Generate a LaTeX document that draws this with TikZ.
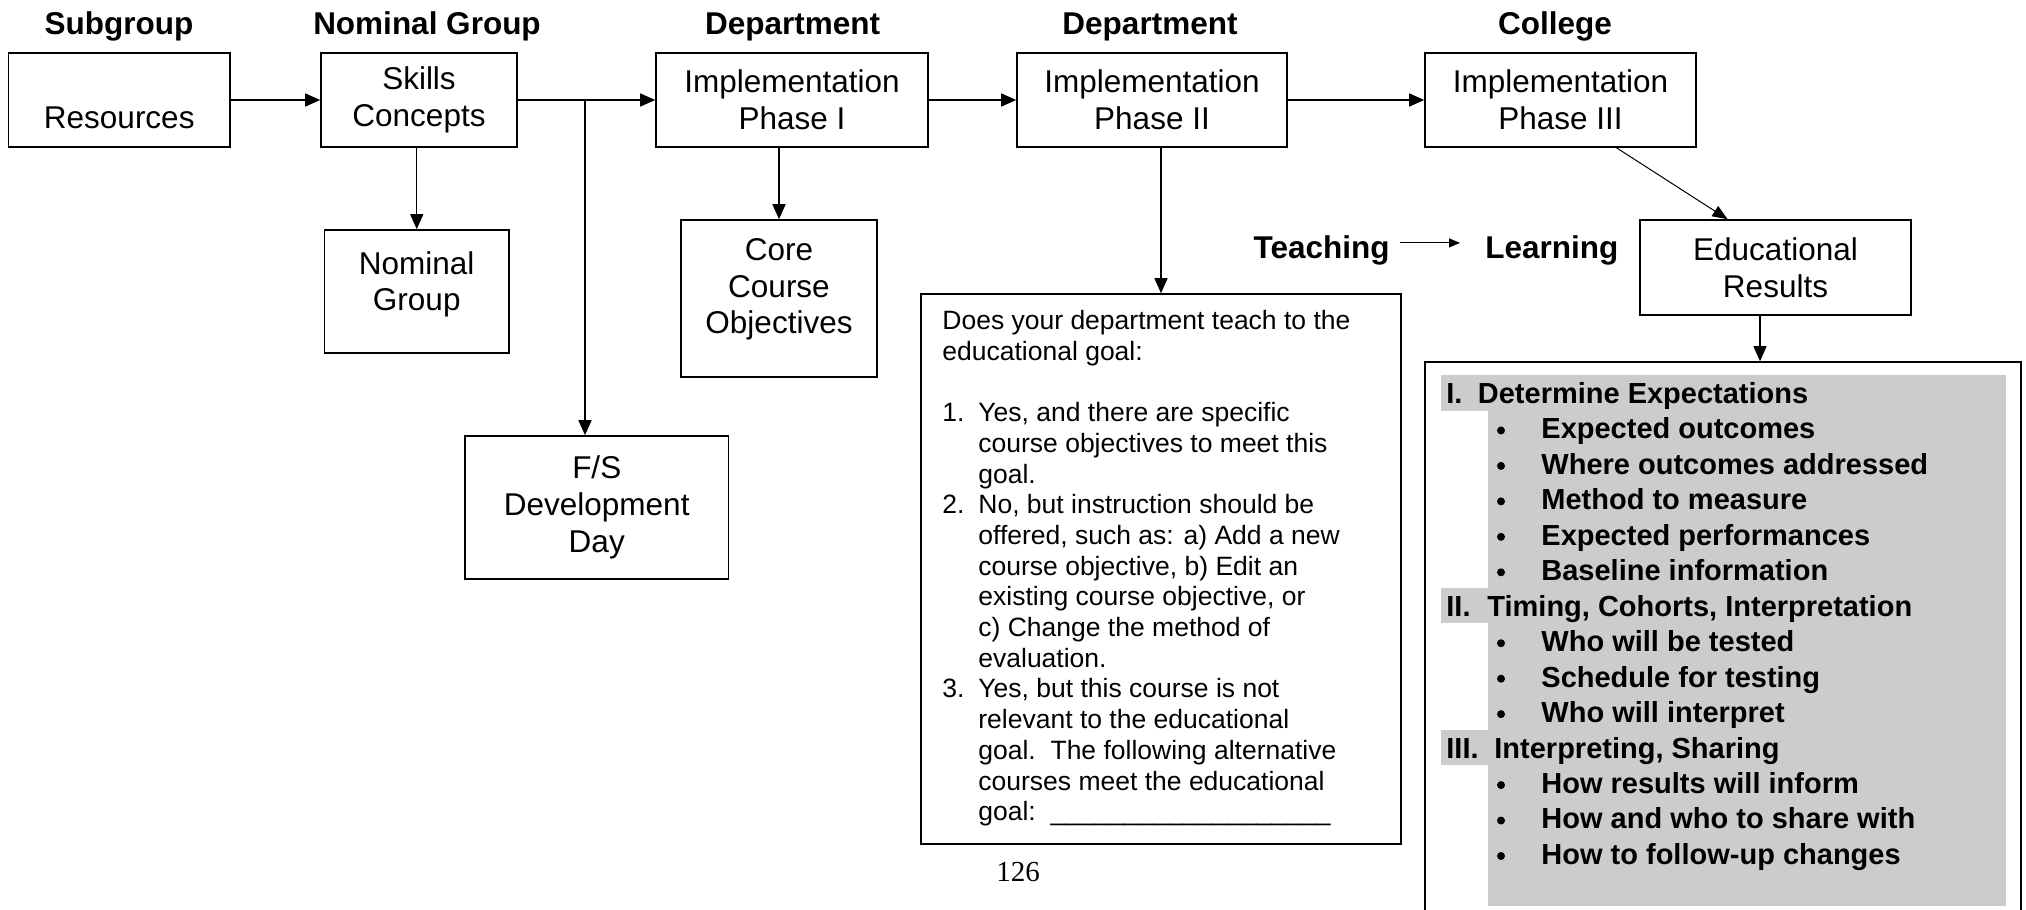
\documentclass[tikz,border=0pt]{standalone}
\usepackage{fontspec}
\setmainfont{Liberation Sans}
\newfontfamily\pagefont{Liberation Serif}
\usetikzlibrary{arrows.meta}
\definecolor{shadegray}{gray}{0.8}

\begin{document}
\begin{tikzpicture}[x=0.5pt, y=-0.5pt,
  box/.style={draw, line width=0.8pt, inner sep=0pt, align=center,
    font=\fontsize{15.75}{18.35}\selectfont},
  boxtext/.style={align=center, inner sep=0pt, font=\fontsize{15.75}{18.35}\selectfont},
  hdr/.style={anchor=base, inner sep=0pt, font=\bfseries\fontsize{15.75}{18.35}\selectfont},
  link/.style={line width=0.7pt, -{Triangle[length=7.5pt, width=6.5pt]}},
  qline/.style={anchor=base west, inner sep=0pt, font=\fontsize{13.25}{15.35}\selectfont},
  rline/.style={anchor=base west, inner sep=0pt, font=\bfseries\fontsize{14.5}{17.7}\selectfont}]

  \useasboundingbox (0,0) rectangle (2026,910);
  \clip (0,0) rectangle (2026,910);

  % Headings over the top row
  \node[hdr] (hsub) at (119,34) {Subgroup};
  \node[hdr] (hnom) at (427,34) {Nominal Group};
  \node[hdr] (hdep) at (792.6,34) {Department};
  \node[hdr] (hdeptwo) at (1150,34) {Department};
  \node[hdr] (hcol) at (1555,34) {College};

  % Top row of boxes
  \node[box, minimum width=110.75pt, minimum height=47pt,
    label={[boxtext, yshift=-9pt]center:Resources}] (res) at (119.25,100) {};
  \node[box, minimum width=98pt, minimum height=47pt] (skl) at (419,100) {Skills\\Concepts};
  \node[box, minimum width=136pt, minimum height=47pt] (ph1) at (792,100) {Implementation\\Phase I};
  \node[box, minimum width=135pt, minimum height=47pt] (ph2) at (1152,100) {Implementation\\Phase II};
  \node[box, minimum width=135.5pt, minimum height=47pt] (ph3) at (1560.5,100) {Implementation\\Phase III};

  % Lower boxes
  \node[box, minimum width=92.25pt, minimum height=61.5pt,
    label={[boxtext, yshift=3.5pt]center:Nominal\\Group}] (nom) at (416.75,291.5) {};
  \node[box, minimum width=98pt, minimum height=78.5pt,
    label={[boxtext, yshift=4.5pt]center:Core\\Course\\Objectives}] (core) at (779,298.5) {};
  \node[box, minimum width=131.75pt, minimum height=71.5pt] (fsd) at (596.75,507.5) {F/S\\Development\\Day};
  \node[box, minimum width=135.5pt, minimum height=47.5pt] (edu) at (1775.5,267.5) {Educational\\Results};
  \node[box, minimum width=240pt, minimum height=275pt] (ques) at (1161,569) {};
  \node[box, minimum width=298pt, minimum height=289pt] (rsl) at (1723,651) {};

  % Connectors
  \coordinate (br) at (585,100);
  \draw[link] (res.east) -- (skl.west);
  \draw[link] (skl.east) -- (ph1.west);
  \draw[link] (br) -- (br |- fsd.north);
  \draw[link] (nom.north |- skl.south) -- (nom.north);
  \draw[link] (core.north |- ph1.south) -- (core.north);
  \draw[link] (ph1.east) -- (ph2.west);
  \draw[link] (ph2.east) -- (ph3.west);
  \draw[link] (ques.north |- ph2.south) -- (ques.north);
  \draw[line width=0.5pt, -{Triangle[length=7.5pt, width=6pt]}]
    ([xshift=28pt]ph3.south) -- ([xshift=-24pt]edu.north);
  \draw[link] ([xshift=-7.75pt]edu.south) -- ([xshift=-7.75pt]edu.south |- rsl.north);

  % Teaching and learning
  \node[hdr, anchor=base east] (teach) at (1390,258) {Teaching};
  \node[hdr, anchor=base west] (learn) at (1485,258) {Learning};
  \draw[line width=0.5pt, -{Triangle[length=5.5pt, width=4.5pt]}, shorten <=4.75pt, shorten >=12.5pt]
    ([yshift=3.5pt]teach.east) -- ([yshift=3.5pt]learn.west);

  % Question box text
  \foreach \txt [count=\k from 0] in {{Does your department teach to the}, {educational goal:}, {},
      {\makebox[18pt][l]{1.}Yes, and there are specific},
      {\hspace*{18pt}course objectives to meet this},
      {\hspace*{18pt}goal.},
      {\makebox[18pt][l]{2.}No, but instruction should be},
      {\hspace*{18pt}offered, such as: a) Add a new},
      {\hspace*{18pt}course objective, b) Edit an},
      {\hspace*{18pt}existing course objective, or},
      {\hspace*{18pt}c) Change the method of},
      {\hspace*{18pt}evaluation.},
      {\makebox[18pt][l]{3.}Yes, but this course is not},
      {\hspace*{18pt}relevant to the educational},
      {\hspace*{18pt}goal.~~The following alternative},
      {\hspace*{18pt}courses meet the educational},
      {\hspace*{18pt}goal:~~\_\_\_\_\_\_\_\_\_\_\_\_\_\_\_\_\_\_\_}}
    \node[qline] (q\k) at (942,329.5+30.7*\k) {\txt};

  % Grey list in the results box
  \fill[shadegray] (1488,375) rectangle (2006,906);
  \foreach \k in {0,6,10}
    \fill[shadegray] (1441,375+35.46*\k) rectangle (1488,410.5+35.46*\k);

  \node[rline] (n1) at (1446,403.4) {I.};
  \node[rline] (t1) at (1477.5,403.4) {Determine Expectations};
  \node[rline] (n2) at (1446,616.2) {II.};
  \node[rline] (t2) at (1487,616.2) {Timing, Cohorts, Interpretation};
  \node[rline] (n3) at (1446,758) {III.};
  \node[rline] (t3) at (1494,758) {Interpreting, Sharing};

  \foreach \k/\txt in {1/Expected outcomes, 2/Where outcomes addressed, 3/Method to measure,
      4/Expected performances, 5/Baseline information, 7/Who will be tested,
      8/Schedule for testing, 9/Who will interpret, 11/How results will inform,
      12/How and who to share with, 13/How to follow-up changes} {
    \fill (1501,395+35.46*\k) circle (2pt);
    \node[rline] (b\k) at (1541,403.4+35.46*\k) {\txt};
  }

  % Page number
  \node[anchor=base, inner sep=0pt, font=\pagefont\fontsize{14.5}{17}\selectfont] (pg) at (1018,881) {126};
\end{tikzpicture}
\end{document}
